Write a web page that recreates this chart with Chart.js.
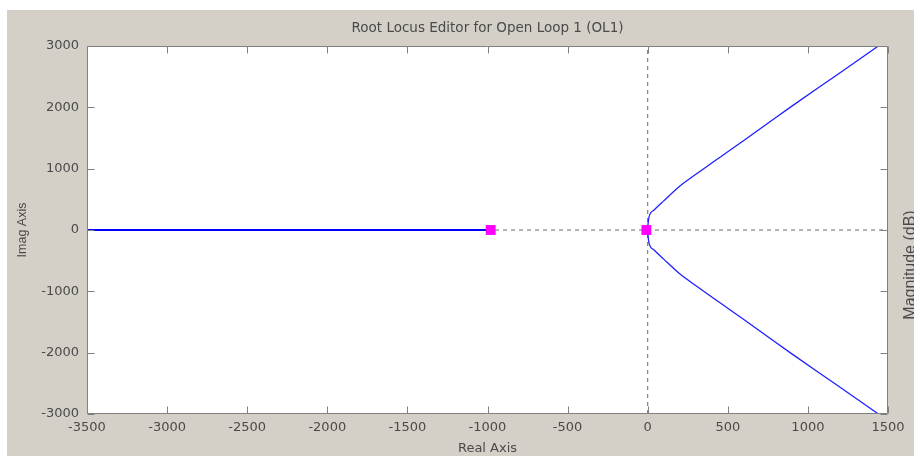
<!DOCTYPE html>
<html>
<head>
<meta charset="utf-8">
<script src="https://cdn.jsdelivr.net/npm/chart.js@4.4.1/dist/chart.umd.min.js"></script>
<style>
  html, body { margin: 0; padding: 0; background: #fff; }
  #wrap { width: 914px; height: 456px; }
</style>
</head>
<body>
<div id="wrap"><canvas id="locus" width="914" height="456"></canvas></div>
<script>
// tick values
const X_TICKS = [-3500, -3000, -2500, -2000, -1500, -1000, -500, 0, 500, 1000, 1500];
const Y_TICKS = [-3000, -2000, -1000, 0, 1000, 2000, 3000];

// branch on the real axis
const realBranchRe = [-3500, -980];
const realBranchIm = [0, 0];

// complex branches (upper / lower)
const upperRe = [0, 2, 8, 40, 100, 196, 310, 456, 600, 750, 900, 1165, 1440];
const upperIm = [0, 90, 210, 326, 475, 706, 924, 1195, 1460, 1740, 2020, 2500, 3000];
const lowerRe = [0, 2, 8, 40, 100, 196, 310, 456, 600, 750, 900, 1165, 1440];
const lowerIm = [0, -90, -210, -326, -475, -706, -924, -1195, -1460, -1740, -2020, -2500, -3000];

// open loop poles
const poleRe = [-980, -8];
const poleIm = [0, 0];

// dashed reference axes
const hAxisRe = [-3500, 1500];
const hAxisIm = [0, 0];
const vAxisRe = [0, 0];
const vAxisIm = [-3000, 3000];

const PANEL_GRAY = "#d4d0c8";
const FRAME_GRAY = "#808080";
const TEXT_GRAY = "#4a4a4a";

/* ---------- helpers ---------- */

function toPoints(xs, ys) {
  return xs.map((x, i) => ({ x, y: ys[i] }));
}

const plainLabel = (v) => String(v);

const panelPlugin = {
  id: "panel",
  beforeDraw(chart) {
    const { ctx, chartArea: a } = chart;
    ctx.save();
    ctx.fillStyle = "#ffffff";
    ctx.fillRect(0, 0, chart.width, chart.height);
    ctx.fillStyle = PANEL_GRAY;
    ctx.fillRect(7, 10, chart.width - 7, chart.height - 10);
    ctx.fillStyle = "#ffffff";
    ctx.fillRect(a.left, a.top, a.right - a.left, a.bottom - a.top);

    // title, centred over the plot
    ctx.fillStyle = TEXT_GRAY;
    ctx.font = "13.5px 'DejaVu Sans'";
    ctx.textAlign = "center";
    ctx.textBaseline = "middle";
    ctx.fillText("Root Locus Editor for Open Loop 1 (OL1)", (a.left + a.right) / 2, 28);

    // right-hand label (cut by the window edge)
    ctx.save();
    ctx.translate(915, 265);
    ctx.rotate(-Math.PI / 2);
    ctx.textBaseline = "alphabetic";
    ctx.font = "16px 'Liberation Sans'";
    ctx.fillText("Magnitude (dB)", 0, 0);
    ctx.restore();
    ctx.restore();
  },
  afterDatasetsDraw(chart) {
    const { ctx, chartArea: a, scales } = chart;
    const L = Math.round(a.left) + 0.5, R = Math.round(a.right) - 0.5;
    const T = Math.round(a.top) + 0.5, B = Math.round(a.bottom) - 0.5;
    const len = 7;
    ctx.save();
    ctx.strokeStyle = FRAME_GRAY;
    ctx.lineWidth = 1;
    ctx.beginPath();
    ctx.rect(L, T, R - L, B - T);
    X_TICKS.forEach((v) => {
      const px = Math.round(scales.x.getPixelForValue(v)) + 0.5;
      ctx.moveTo(px, B); ctx.lineTo(px, B - len);
      ctx.moveTo(px, T); ctx.lineTo(px, T + len);
    });
    Y_TICKS.forEach((v) => {
      const py = Math.round(scales.y.getPixelForValue(v)) + 0.5;
      ctx.moveTo(L, py); ctx.lineTo(L + len, py);
      ctx.moveTo(R, py); ctx.lineTo(R - len, py);
    });
    ctx.stroke();
    ctx.restore();
  },
};

/* ---------- chart ---------- */

new Chart(document.getElementById("locus"), {
  type: "scatter",
  data: {
    datasets: [
      {
        label: "poles",
        data: toPoints(poleRe, poleIm),
        pointStyle: "rect",
        pointRadius: 7,
        pointBackgroundColor: "#ff00ff",
        pointBorderColor: "#ff00ff",
        pointBorderWidth: 0,
        showLine: false,
        order: 0,
      },
      {
        label: "real branch",
        data: toPoints(realBranchRe, realBranchIm),
        showLine: true,
        borderColor: "#0000ff",
        borderWidth: 2,
        pointRadius: 0,
        order: 1,
      },
      {
        label: "upper branch",
        data: toPoints(upperRe, upperIm),
        showLine: true,
        borderColor: "#2020ff",
        borderWidth: 1.3,
        cubicInterpolationMode: "monotone",
        pointRadius: 0,
        order: 1,
      },
      {
        label: "lower branch",
        data: toPoints(lowerRe, lowerIm),
        showLine: true,
        borderColor: "#2020ff",
        borderWidth: 1.3,
        cubicInterpolationMode: "monotone",
        pointRadius: 0,
        order: 1,
      },
      {
        label: "h axis",
        data: toPoints(hAxisRe, hAxisIm),
        showLine: true,
        borderColor: "#666666",
        borderWidth: 1,
        borderDash: [4, 4],
        pointRadius: 0,
        order: 2,
      },
      {
        label: "v axis",
        data: toPoints(vAxisRe, vAxisIm),
        showLine: true,
        borderColor: "#666666",
        borderWidth: 1,
        borderDash: [4, 4],
        pointRadius: 0,
        order: 2,
      },
    ],
  },
  options: {
    responsive: false,
    animation: false,
    layout: { padding: { top: 46, right: 26, bottom: 0, left: 0 } },
    plugins: {
      legend: { display: false },
      tooltip: { enabled: false },
      title: { display: false },
    },
    scales: {
      x: {
        type: "linear",
        min: -3500,
        max: 1500,
        afterBuildTicks: (s) => { s.ticks = X_TICKS.map((v) => ({ value: v })); },
        afterFit: (s) => { s.height = 42; },
        grid: { display: false, drawTicks: false },
        border: { display: false },
        ticks: {
          autoSkip: false,
          maxRotation: 0,
          padding: 6,
          color: TEXT_GRAY,
          font: { family: "'DejaVu Sans'", size: 13 },
          callback: plainLabel,
        },
        title: {
          display: true,
          text: "Real Axis",
          color: TEXT_GRAY,
          font: { family: "'DejaVu Sans'", size: 13 },
          padding: { top: 0, bottom: 0 },
        },
      },
      y: {
        type: "linear",
        min: -3000,
        max: 3000,
        afterBuildTicks: (s) => { s.ticks = Y_TICKS.map((v) => ({ value: v })); },
        afterFit: (s) => { s.width = 87; },
        grid: { display: false, drawTicks: false },
        border: { display: false },
        ticks: {
          autoSkip: false,
          padding: 8,
          color: TEXT_GRAY,
          font: { family: "'DejaVu Sans'", size: 13 },
          callback: plainLabel,
        },
        title: {
          display: true,
          text: "Imag Axis",
          color: TEXT_GRAY,
          font: { family: "'Liberation Sans'", size: 12.5 },
          padding: { top: 15, bottom: 0 },
        },
      },
    },
  },
  plugins: [panelPlugin],
});
</script>
</body>
</html>
